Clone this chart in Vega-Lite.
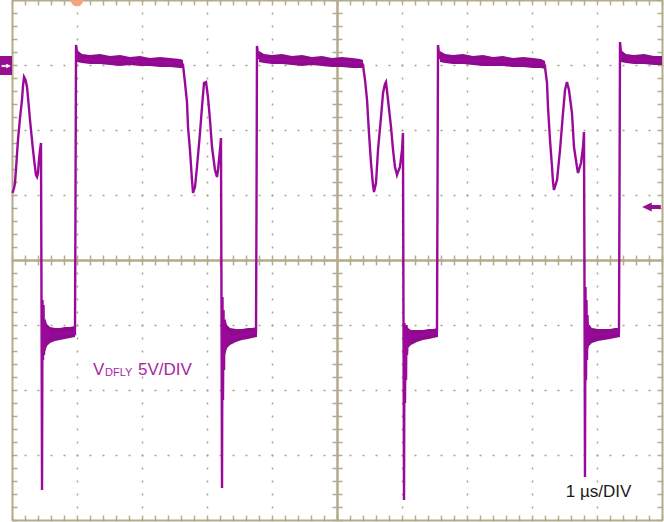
{
  "$schema": "https://vega.github.io/schema/vega-lite/v6.json",
  "width": 650,
  "height": 520,
  "autosize": {"type": "none"},
  "padding": {"left": 12, "top": 0, "right": 2, "bottom": 2},
  "background": "white",
  "config": {
    "view": {"stroke": null},
    "axis": {"labels": false, "grid": false, "domainColor": "#B3AC8C", "tickColor": "#B3AC8C", "domainWidth": 2, "tickWidth": 1.5, "tickSize": 5}
  },
  "datasets": {
    "trace": [
      {"t":0.008,"v":-9.846},{"t":0.031,"v":-9.462},{"t":0.046,"v":-9.077},{"t":0.069,"v":-7.462},{"t":0.092,"v":-5.769},{"t":0.123,"v":-4.077},{"t":0.154,"v":-2.692},{"t":0.169,"v":-1.615},{"t":0.185,"v":-0.923},{"t":0.208,"v":-1.154},{"t":0.231,"v":-1.692},{"t":0.254,"v":-2.923},{"t":0.277,"v":-4.231},{"t":0.3,"v":-5.385},{"t":0.323,"v":-6.538},{"t":0.346,"v":-7.538},{"t":0.369,"v":-8.462},{"t":0.385,"v":-8.615},{"t":0.4,"v":-8.308},{"t":0.415,"v":-7.308},{"t":0.431,"v":-6.538},{"t":0.446,"v":-6.0},
      {"t":0.454,"v":-18.077},{"t":0.462,"v":-32.692},{"t":0.469,"v":-18.077},{"t":0.477,"v":-22.692},{"t":0.485,"v":-18.462},{"t":0.492,"v":-22.308},{"t":0.5,"v":-19.615},{"t":0.508,"v":-21.538},{"t":0.523,"v":-20.231},{"t":0.538,"v":-21.154},{"t":0.554,"v":-20.385},
      {"t":0.585,"v":-20.846},{"t":0.738,"v":-20.692},{"t":0.954,"v":-20.538},{"t":0.969,"v":-20.615},
      {"t":0.977,"v":-10.385},{"t":0.985,"v":1.538},{"t":1.0,"v":1.0},{"t":1.015,"v":0.538},
      {"t":1.046,"v":0.462},{"t":1.662,"v":0.385},{"t":2.277,"v":0.231},{"t":2.615,"v":0.154},{"t":2.631,"v":0.0},
      {"t":2.662,"v":-1.385},{"t":2.692,"v":-2.846},{"t":2.708,"v":-4.769},{"t":2.738,"v":-6.538},{"t":2.769,"v":-8.846},{"t":2.785,"v":-9.846},{"t":2.815,"v":-9.385},{"t":2.846,"v":-7.846},{"t":2.892,"v":-5.231},{"t":2.923,"v":-3.231},{"t":2.954,"v":-1.385},{"t":2.985,"v":-1.308},{"t":3.015,"v":-2.462},{"t":3.046,"v":-4.231},{"t":3.077,"v":-6.308},{"t":3.123,"v":-8.077},{"t":3.154,"v":-8.615},{"t":3.169,"v":-8.077},{"t":3.2,"v":-6.538},{"t":3.215,"v":-5.615},
      {"t":3.223,"v":-18.077},{"t":3.231,"v":-32.538},{"t":3.238,"v":-17.846},{"t":3.246,"v":-25.769},{"t":3.254,"v":-18.846},{"t":3.262,"v":-23.462},{"t":3.269,"v":-19.615},{"t":3.277,"v":-21.923},{"t":3.292,"v":-20.385},{"t":3.308,"v":-21.308},{"t":3.323,"v":-20.538},
      {"t":3.354,"v":-21.0},{"t":3.585,"v":-20.692},{"t":3.754,"v":-20.538},
      {"t":3.762,"v":-10.385},{"t":3.769,"v":1.462},{"t":3.785,"v":0.846},{"t":3.8,"v":0.538},
      {"t":3.846,"v":0.462},{"t":4.431,"v":0.308},{"t":5.046,"v":0.231},{"t":5.385,"v":0.154},{"t":5.4,"v":0.0},
      {"t":5.431,"v":-1.154},{"t":5.462,"v":-2.692},{"t":5.492,"v":-5.231},{"t":5.523,"v":-7.538},{"t":5.554,"v":-9.231},{"t":5.569,"v":-9.769},{"t":5.6,"v":-9.077},{"t":5.631,"v":-6.538},{"t":5.677,"v":-4.0},{"t":5.708,"v":-2.154},{"t":5.738,"v":-1.462},{"t":5.754,"v":-1.308},{"t":5.785,"v":-2.692},{"t":5.831,"v":-4.769},{"t":5.862,"v":-6.538},{"t":5.892,"v":-7.846},{"t":5.923,"v":-8.462},{"t":5.938,"v":-8.231},{"t":5.969,"v":-7.846},{"t":6.0,"v":-6.538},{"t":6.015,"v":-5.231},
      {"t":6.023,"v":-19.615},{"t":6.031,"v":-33.462},{"t":6.038,"v":-19.846},{"t":6.046,"v":-26.0},{"t":6.054,"v":-20.385},{"t":6.062,"v":-24.231},{"t":6.069,"v":-20.0},{"t":6.077,"v":-22.308},{"t":6.092,"v":-20.385},{"t":6.108,"v":-21.538},{"t":6.123,"v":-20.615},
      {"t":6.154,"v":-20.923},{"t":6.354,"v":-20.692},{"t":6.538,"v":-20.538},
      {"t":6.546,"v":-10.385},{"t":6.554,"v":1.538},{"t":6.569,"v":0.846},{"t":6.585,"v":0.538},
      {"t":6.631,"v":0.462},{"t":7.2,"v":0.308},{"t":7.815,"v":0.231},{"t":8.185,"v":0.154},{"t":8.2,"v":-0.154},
      {"t":8.231,"v":-1.385},{"t":8.246,"v":-3.231},{"t":8.277,"v":-5.769},{"t":8.308,"v":-7.846},{"t":8.323,"v":-9.0},{"t":8.338,"v":-9.615},{"t":8.385,"v":-8.846},{"t":8.431,"v":-6.538},{"t":8.477,"v":-3.692},{"t":8.508,"v":-1.923},{"t":8.538,"v":-1.308},{"t":8.569,"v":-1.923},{"t":8.615,"v":-3.692},{"t":8.646,"v":-6.308},{"t":8.692,"v":-7.846},{"t":8.708,"v":-8.308},{"t":8.754,"v":-7.538},{"t":8.785,"v":-6.308},{"t":8.8,"v":-5.154},
      {"t":8.808,"v":-17.308},{"t":8.815,"v":-31.692},{"t":8.823,"v":-17.077},{"t":8.831,"v":-24.231},{"t":8.838,"v":-18.077},{"t":8.846,"v":-22.692},{"t":8.854,"v":-19.231},{"t":8.862,"v":-21.538},{"t":8.877,"v":-20.0},{"t":8.892,"v":-21.154},{"t":8.908,"v":-20.385},
      {"t":8.938,"v":-20.846},{"t":9.123,"v":-20.692},{"t":9.338,"v":-20.538},
      {"t":9.346,"v":-10.385},{"t":9.354,"v":1.769},{"t":9.369,"v":1.0},{"t":9.385,"v":0.615},
      {"t":9.508,"v":0.462},{"t":9.815,"v":0.385},{"t":10.0,"v":0.308}
    ],
    "band": [
      {"seg":"T1","t":1.0,"hi":1.154,"lo":0.231},{"seg":"T1","t":1.077,"hi":0.846,"lo":0.154},{"seg":"T1","t":1.2,"hi":0.769,"lo":0.077},{"seg":"T1","t":1.354,"hi":0.846,"lo":0.077},{"seg":"T1","t":1.508,"hi":0.692,"lo":0.0},{"seg":"T1","t":1.662,"hi":0.769,"lo":-0.077},{"seg":"T1","t":1.815,"hi":0.615,"lo":0.0},{"seg":"T1","t":1.969,"hi":0.692,"lo":-0.077},{"seg":"T1","t":2.123,"hi":0.538,"lo":-0.077},{"seg":"T1","t":2.277,"hi":0.615,"lo":-0.154},{"seg":"T1","t":2.431,"hi":0.538,"lo":-0.154},{"seg":"T1","t":2.585,"hi":0.462,"lo":-0.231},{"seg":"T1","t":2.631,"hi":0.385,"lo":-0.231},
      {"seg":"T2","t":3.8,"hi":1.077,"lo":0.231},{"seg":"T2","t":3.877,"hi":0.846,"lo":0.154},{"seg":"T2","t":4.0,"hi":0.769,"lo":0.077},{"seg":"T2","t":4.154,"hi":0.846,"lo":0.077},{"seg":"T2","t":4.308,"hi":0.692,"lo":0.0},{"seg":"T2","t":4.462,"hi":0.769,"lo":-0.077},{"seg":"T2","t":4.615,"hi":0.615,"lo":0.0},{"seg":"T2","t":4.769,"hi":0.692,"lo":-0.077},{"seg":"T2","t":4.923,"hi":0.538,"lo":-0.154},{"seg":"T2","t":5.077,"hi":0.615,"lo":-0.154},{"seg":"T2","t":5.231,"hi":0.538,"lo":-0.231},{"seg":"T2","t":5.354,"hi":0.462,"lo":-0.231},{"seg":"T2","t":5.4,"hi":0.385,"lo":-0.231},
      {"seg":"T3","t":6.585,"hi":1.077,"lo":0.231},{"seg":"T3","t":6.662,"hi":0.846,"lo":0.154},{"seg":"T3","t":6.785,"hi":0.769,"lo":0.077},{"seg":"T3","t":6.938,"hi":0.846,"lo":0.077},{"seg":"T3","t":7.092,"hi":0.692,"lo":0.0},{"seg":"T3","t":7.246,"hi":0.769,"lo":-0.077},{"seg":"T3","t":7.4,"hi":0.615,"lo":-0.077},{"seg":"T3","t":7.554,"hi":0.692,"lo":-0.077},{"seg":"T3","t":7.708,"hi":0.538,"lo":-0.154},{"seg":"T3","t":7.862,"hi":0.615,"lo":-0.154},{"seg":"T3","t":8.015,"hi":0.538,"lo":-0.231},{"seg":"T3","t":8.138,"hi":0.462,"lo":-0.231},{"seg":"T3","t":8.2,"hi":0.308,"lo":-0.308},
      {"seg":"T4","t":9.369,"hi":1.154,"lo":0.231},{"seg":"T4","t":9.446,"hi":0.846,"lo":0.154},{"seg":"T4","t":9.569,"hi":0.769,"lo":0.077},{"seg":"T4","t":9.723,"hi":0.846,"lo":0.077},{"seg":"T4","t":9.877,"hi":0.692,"lo":0.0},{"seg":"T4","t":10.0,"hi":0.692,"lo":0.0},
      {"seg":"L1","t":0.508,"hi":-19.462,"lo":-22.077},{"seg":"L1","t":0.538,"hi":-19.923,"lo":-21.615},{"seg":"L1","t":0.585,"hi":-20.154,"lo":-21.385},{"seg":"L1","t":0.662,"hi":-20.231,"lo":-21.231},{"seg":"L1","t":0.738,"hi":-20.231,"lo":-21.154},{"seg":"L1","t":0.815,"hi":-20.154,"lo":-21.077},{"seg":"L1","t":0.892,"hi":-20.154,"lo":-21.0},{"seg":"L1","t":0.969,"hi":-20.077,"lo":-20.923},
      {"seg":"L2","t":3.277,"hi":-19.462,"lo":-22.308},{"seg":"L2","t":3.308,"hi":-20.0,"lo":-21.769},{"seg":"L2","t":3.354,"hi":-20.231,"lo":-21.538},{"seg":"L2","t":3.446,"hi":-20.308,"lo":-21.308},{"seg":"L2","t":3.538,"hi":-20.308,"lo":-21.154},{"seg":"L2","t":3.631,"hi":-20.231,"lo":-21.077},{"seg":"L2","t":3.692,"hi":-20.231,"lo":-21.0},{"seg":"L2","t":3.769,"hi":-20.154,"lo":-20.923},
      {"seg":"L3","t":6.062,"hi":-20.0,"lo":-22.692},{"seg":"L3","t":6.092,"hi":-20.231,"lo":-21.769},{"seg":"L3","t":6.138,"hi":-20.385,"lo":-21.538},{"seg":"L3","t":6.231,"hi":-20.385,"lo":-21.308},{"seg":"L3","t":6.323,"hi":-20.385,"lo":-21.154},{"seg":"L3","t":6.415,"hi":-20.308,"lo":-21.077},{"seg":"L3","t":6.477,"hi":-20.308,"lo":-21.0},{"seg":"L3","t":6.554,"hi":-20.231,"lo":-20.923},
      {"seg":"L4","t":8.846,"hi":-19.462,"lo":-22.077},{"seg":"L4","t":8.877,"hi":-20.0,"lo":-21.615},{"seg":"L4","t":8.923,"hi":-20.231,"lo":-21.385},{"seg":"L4","t":9.015,"hi":-20.308,"lo":-21.231},{"seg":"L4","t":9.108,"hi":-20.308,"lo":-21.154},{"seg":"L4","t":9.2,"hi":-20.308,"lo":-21.077},{"seg":"L4","t":9.277,"hi":-20.231,"lo":-21.0},{"seg":"L4","t":9.354,"hi":-20.231,"lo":-20.923}
    ]
  },
  "resolve": {"axis": {"x": "independent", "y": "independent"}},
  "layer": [
    {
      "data": {"name": "band"},
      "mark": {"type": "area", "color": "#8E0A8E", "opacity": 1},
      "encoding": {
        "x": {"field": "t", "type": "quantitative", "scale": {"domain": [0, 10], "nice": false, "zero": false},
              "axis": {"orient": "bottom", "title": null, "values": [0,1,2,3,4,5,6,7,8,9,10], "grid": true, "domain": false, "ticks": false, "gridDash": [2, 11], "gridDashOffset": 1, "gridWidth": 1.5, "gridColor": "#ABA484"}},
        "y": {"field": "hi", "type": "quantitative", "scale": {"domain": [-35, 5], "nice": false, "zero": false},
              "axis": {"orient": "left", "title": null, "values": [-35,-30,-25,-20,-15,-10,-5,0,5], "grid": true, "domain": false, "ticks": false, "gridDash": [2, 11], "gridDashOffset": 1, "gridWidth": 1.5, "gridColor": "#ABA484"}},
        "y2": {"field": "lo"},
        "detail": {"field": "seg"}
      }
    },
    {
      "data": {"name": "trace"},
      "mark": {"type": "line", "color": "#9A0A9A", "strokeWidth": 2.4},
      "encoding": {
        "x": {"field": "t", "type": "quantitative", "scale": {"domain": [0, 10], "nice": false, "zero": false},
              "axis": {"orient": "top", "offset": -520, "title": null, "values": [0,0.2,0.4,0.6,0.8,1,1.2,1.4,1.6,1.8,2,2.2,2.4,2.6,2.8,3,3.2,3.4,3.6,3.8,4,4.2,4.4,4.6,4.8,5,5.2,5.4,5.6,5.8,6,6.2,6.4,6.6,6.8,7,7.2,7.4,7.6,7.8,8,8.2,8.4,8.6,8.8,9,9.2,9.4,9.6,9.8,10]}},
        "y": {"field": "v", "type": "quantitative", "scale": {"domain": [-35, 5], "nice": false, "zero": false},
              "axis": {"orient": "right", "offset": -650, "title": null, "values": [-35,-34,-33,-32,-31,-30,-29,-28,-27,-26,-25,-24,-23,-22,-21,-20,-19,-18,-17,-16,-15,-14,-13,-12,-11,-10,-9,-8,-7,-6,-5,-4,-3,-2,-1,0,1,2,3,4,5]}}
      }
    },
    {
      "data": {"values": [{"t": 8.52, "v": -33.231, "txt": "1 µs/DIV"}]},
      "mark": {"type": "text", "align": "left", "baseline": "alphabetic", "font": "Arial", "fontSize": 17, "color": "#1A1A1A"},
      "encoding": {
        "x": {"field": "t", "type": "quantitative", "scale": {"domain": [0, 10], "nice": false, "zero": false},
              "axis": {"orient": "bottom", "offset": -520, "title": null, "values": [0,0.2,0.4,0.6,0.8,1,1.2,1.4,1.6,1.8,2,2.2,2.4,2.6,2.8,3,3.2,3.4,3.6,3.8,4,4.2,4.4,4.6,4.8,5,5.2,5.4,5.6,5.8,6,6.2,6.4,6.6,6.8,7,7.2,7.4,7.6,7.8,8,8.2,8.4,8.6,8.8,9,9.2,9.4,9.6,9.8,10]}},
        "y": {"field": "v", "type": "quantitative", "scale": {"domain": [-35, 5], "nice": false, "zero": false},
              "axis": {"orient": "left", "offset": -650, "title": null, "values": [-35,-34,-33,-32,-31,-30,-29,-28,-27,-26,-25,-24,-23,-22,-21,-20,-19,-18,-17,-16,-15,-14,-13,-12,-11,-10,-9,-8,-7,-6,-5,-4,-3,-2,-1,0,1,2,3,4,5]}},
        "text": {"field": "txt"}
      }
    },
    {
      "data": {"values": [{"t": -0.185, "t2": 0, "v": 0.692, "v2": -0.769}]},
      "mark": {"type": "rect", "color": "#94108F"},
      "encoding": {
        "x": {"field": "t", "type": "quantitative", "scale": {"domain": [0, 10], "nice": false, "zero": false},
              "axis": {"orient": "bottom", "offset": -260, "title": null, "values": [0,0.2,0.4,0.6,0.8,1,1.2,1.4,1.6,1.8,2,2.2,2.4,2.6,2.8,3,3.2,3.4,3.6,3.8,4,4.2,4.4,4.6,4.8,5,5.2,5.4,5.6,5.8,6,6.2,6.4,6.6,6.8,7,7.2,7.4,7.6,7.8,8,8.2,8.4,8.6,8.8,9,9.2,9.4,9.6,9.8,10]}},
        "x2": {"field": "t2"},
        "y": {"field": "v", "type": "quantitative", "scale": {"domain": [-35, 5], "nice": false, "zero": false},
              "axis": {"orient": "left", "offset": -325, "title": null, "values": [-35,-34,-33,-32,-31,-30,-29,-28,-27,-26,-25,-24,-23,-22,-21,-20,-19,-18,-17,-16,-15,-14,-13,-12,-11,-10,-9,-8,-7,-6,-5,-4,-3,-2,-1,0,1,2,3,4,5]}},
        "y2": {"field": "v2"}
      }
    },
    {
      "data": {"values": [{"t": 9.846, "v": -10.923}]},
      "mark": {"type": "point", "shape": "arrow", "angle": 270, "filled": true, "size": 260, "color": "#94108F", "stroke": "#94108F", "strokeWidth": 1.5, "opacity": 1},
      "encoding": {
        "x": {"field": "t", "type": "quantitative", "scale": {"domain": [0, 10], "nice": false, "zero": false},
              "axis": {"orient": "top", "offset": -260, "title": null, "values": [0,0.2,0.4,0.6,0.8,1,1.2,1.4,1.6,1.8,2,2.2,2.4,2.6,2.8,3,3.2,3.4,3.6,3.8,4,4.2,4.4,4.6,4.8,5,5.2,5.4,5.6,5.8,6,6.2,6.4,6.6,6.8,7,7.2,7.4,7.6,7.8,8,8.2,8.4,8.6,8.8,9,9.2,9.4,9.6,9.8,10]}},
        "y": {"field": "v", "type": "quantitative", "scale": {"domain": [-35, 5], "nice": false, "zero": false},
              "axis": {"orient": "right", "offset": -325, "title": null, "values": [-35,-34,-33,-32,-31,-30,-29,-28,-27,-26,-25,-24,-23,-22,-21,-20,-19,-18,-17,-16,-15,-14,-13,-12,-11,-10,-9,-8,-7,-6,-5,-4,-3,-2,-1,0,1,2,3,4,5]}}
      }
    },
    {
      "data": {"values": [{"t": -0.092, "v": -0.077}]},
      "mark": {"type": "point", "shape": "arrow", "angle": 90, "filled": true, "size": 70, "color": "white", "stroke": "white", "strokeWidth": 0.8, "opacity": 1},
      "encoding": {
        "x": {"field": "t", "type": "quantitative", "scale": {"domain": [0, 10], "nice": false, "zero": false}, "axis": null},
        "y": {"field": "v", "type": "quantitative", "scale": {"domain": [-35, 5], "nice": false, "zero": false}, "axis": null}
      }
    },
    {
      "data": {"values": [{"t": 1.0, "v": 5.0}]},
      "mark": {"type": "point", "shape": "circle", "filled": true, "size": 160, "color": "#F6A47C", "opacity": 1},
      "encoding": {
        "x": {"field": "t", "type": "quantitative", "scale": {"domain": [0, 10], "nice": false, "zero": false}, "axis": null},
        "y": {"field": "v", "type": "quantitative", "scale": {"domain": [-35, 5], "nice": false, "zero": false}, "axis": null}
      }
    },
    {
      "data": {"values": [{"t": 1.246, "v": -23.846, "txt": "V"}, {"t": 1.938, "v": -23.846, "txt": "5V/DIV"}]},
      "mark": {"type": "text", "align": "left", "baseline": "alphabetic", "font": "Arial", "fontSize": 17, "color": "#A626A4"},
      "encoding": {
        "x": {"field": "t", "type": "quantitative", "scale": {"domain": [0, 10], "nice": false, "zero": false}, "axis": null},
        "y": {"field": "v", "type": "quantitative", "scale": {"domain": [-35, 5], "nice": false, "zero": false}, "axis": null},
        "text": {"field": "txt"}
      }
    },
    {
      "data": {"values": [{"t": 1.431, "v": -23.923, "txt": "DFLY"}]},
      "mark": {"type": "text", "align": "left", "baseline": "alphabetic", "font": "Arial", "fontSize": 11, "color": "#A626A4"},
      "encoding": {
        "x": {"field": "t", "type": "quantitative", "scale": {"domain": [0, 10], "nice": false, "zero": false}, "axis": null},
        "y": {"field": "v", "type": "quantitative", "scale": {"domain": [-35, 5], "nice": false, "zero": false}, "axis": null},
        "text": {"field": "txt"}
      }
    }
  ]
}
